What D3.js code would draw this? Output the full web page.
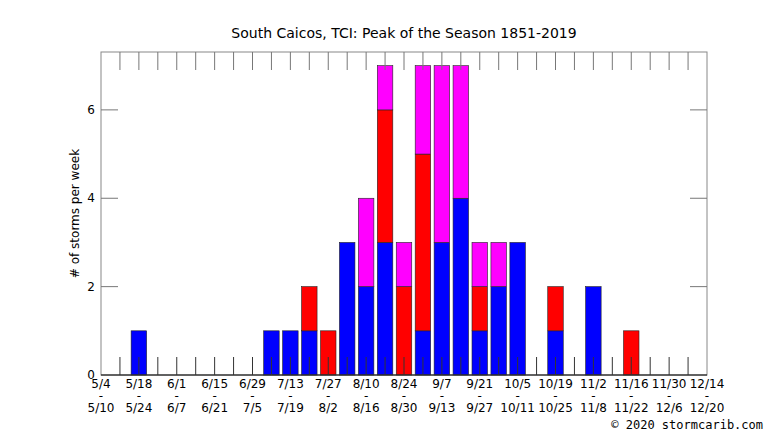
<!DOCTYPE html>
<html><head><meta charset="utf-8">
<script src="https://cdn.jsdelivr.net/npm/d3@7"></script>
<style>body{margin:0;background:#fff}text{font-family:"DejaVu Sans",sans-serif}</style>
</head><body><svg id="c" width="766" height="431"></svg>
<script>
// week index from 5/4 (0) to 12/14 (32)
const weeks = [2, 9, 10, 11, 12, 13, 14, 15, 16, 17, 18, 19, 20, 21, 22, 24, 26, 28];
const blue    = [1, 1, 1, 1, 0, 3, 2, 3, 0, 1, 3, 4, 1, 2, 3, 1, 2, 0];
const red     = [0, 0, 0, 1, 1, 0, 0, 3, 2, 4, 0, 0, 1, 0, 0, 1, 0, 1];
const magenta = [0, 0, 0, 0, 0, 0, 2, 1, 1, 2, 4, 3, 1, 1, 0, 0, 0, 0];
const tickTop = ['5/4','5/18','6/1','6/15','6/29','7/13','7/27','8/10','8/24','9/7','9/21','10/5','10/19','11/2','11/16','11/30','12/14'];
const tickBot = ['5/10','5/24','6/7','6/21','7/5','7/19','8/2','8/16','8/30','9/13','9/27','10/11','10/25','11/8','11/22','12/6','12/20'];

const svg = d3.select('#c');
const L = 101, R = 707, T = 52, B = 375;
const x = d3.scaleLinear().domain([0, 32]).range([L, R]);
const y = d3.scaleLinear().domain([0, 7.31]).range([B, T]);

// stacked bars
const rows = weeks.map((w, i) => ({w, b: blue[i], r: red[i], m: magenta[i]}));
const stack = d3.stack().keys(['b', 'r', 'm'])(rows);
const colors = {b: '#0000ff', r: '#ff0000', m: '#ff00ff'};
const bw = 15.5;
stack.forEach(layer => {
  svg.append('g').selectAll('rect').data(layer.filter(d => d[1] > d[0])).join('rect')
    .attr('x', d => x(d.data.w) - bw / 2)
    .attr('y', d => y(d[1]))
    .attr('width', bw)
    .attr('height', d => y(d[0]) - y(d[1]))
    .attr('fill', colors[layer.key])
    .attr('stroke', '#222').attr('stroke-width', 0.6);
});

// frame
svg.append('rect').attr('x', L).attr('y', T).attr('width', R - L).attr('height', B - T)
  .attr('fill', 'none').attr('stroke', '#888');
svg.append('line').attr('x1', L).attr('x2', R).attr('y1', B).attr('y2', B).attr('stroke', '#000');

// week ticks top and bottom
const wt = d3.range(1, 32);
svg.append('g').selectAll('line').data(wt).join('line')
  .attr('x1', d => x(d)).attr('x2', d => x(d)).attr('y1', T).attr('y2', T + 18)
  .attr('stroke', '#777');
svg.append('g').selectAll('line').data(wt).join('line')
  .attr('x1', d => x(d)).attr('x2', d => x(d)).attr('y1', B).attr('y2', B - 18)
  .attr('stroke', '#333');

// y ticks
const yt = [0, 2, 4, 6];
svg.append('g').selectAll('line').data(yt.slice(1)).join('line')
  .attr('x1', L).attr('x2', L + 17).attr('y1', d => y(d)).attr('y2', d => y(d)).attr('stroke', '#777');
svg.append('g').selectAll('line').data(yt.slice(1)).join('line')
  .attr('x1', R).attr('x2', R - 17).attr('y1', d => y(d)).attr('y2', d => y(d)).attr('stroke', '#777');
svg.append('g').selectAll('text').data(yt).join('text')
  .attr('x', L - 6).attr('y', d => y(d) + 4).attr('text-anchor', 'end')
  .attr('font-size', 12).text(d => d);

// x labels
const xl = svg.append('g').selectAll('g').data(tickTop).join('g')
  .attr('transform', (d, i) => `translate(${x(i * 2)},0)`)
  .attr('font-size', 12).attr('text-anchor', 'middle');
xl.append('text').attr('y', 388).text(d => d);
xl.append('text').attr('y', 400).text('-');
xl.append('text').attr('y', 412).text((d, i) => tickBot[i]);

svg.append('text').attr('x', 404).attr('y', 38).attr('text-anchor', 'middle')
  .attr('font-size', 14).text('South Caicos, TCI: Peak of the Season 1851-2019');
svg.append('text').attr('transform', `translate(79,${(T + B) / 2}) rotate(-90)`)
  .attr('text-anchor', 'middle').attr('font-size', 12).text('# of storms per week');
svg.append('text').attr('x', 763).attr('y', 429).attr('text-anchor', 'end')
  .attr('font-size', 12).style('font-family', '"DejaVu Sans Mono",monospace')
  .text('© 2020 stormcarib.com');
</script></body></html>
